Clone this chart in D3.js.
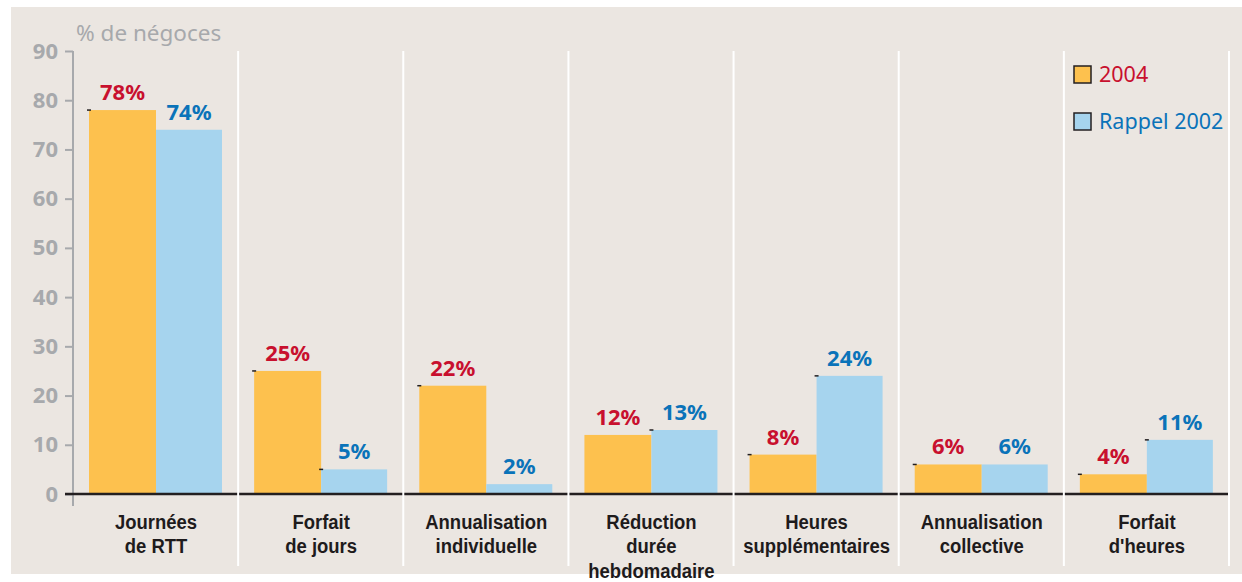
<!DOCTYPE html>
<html>
<head>
<meta charset="utf-8">
<script src="https://cdn.jsdelivr.net/npm/d3@7"></script>
<style>
  html, body { margin: 0; padding: 0; background: #fff; }
  svg { display: block; }
</style>
</head>
<body>
<div id="chart"></div>
<script>
// Data
const categories = [
  ["Journées", "de RTT"],
  ["Forfait", "de jours"],
  ["Annualisation", "individuelle"],
  ["Réduction", "durée", "hebdomadaire"],
  ["Heures", "supplémentaires"],
  ["Annualisation", "collective"],
  ["Forfait", "d'heures"]
];
const values2004 = [78, 25, 22, 12, 8, 6, 4];
const values2002 = [74, 5, 2, 13, 24, 6, 11];
const seriesNames = ["2004", "Rappel 2002"];
const yTicks = [0, 10, 20, 30, 40, 50, 60, 70, 80, 90];
// little black dash seen at the top-left corner of some bars
const dash2004 = [true, true, true, false, true, true, true];
const dash2002 = [false, true, false, true, true, false, true];

const width = 1242, height = 582;
const fillColors = ["#fdc14e", "#a6d4ee"];
const textColors = ["#c8102e", "#0a73b9"];
const gray = "#a7a9ac";
const dark = "#231f20";
const font = "'Noto Sans', 'Open Sans', sans-serif";

const svg = d3.select("#chart").append("svg")
  .attr("width", width)
  .attr("height", height);

// beige panel
svg.append("rect")
  .attr("x", 11).attr("y", 7)
  .attr("width", width - 11).attr("height", 567)
  .attr("fill", "#ebe6e1");

const x0 = 73, x1 = 1229;
const xScale = d3.scaleBand()
  .domain(d3.range(categories.length))
  .range([x0, x1]);

const yScale = d3.scaleLinear().domain([0, 90]).range([494, 51]);

const barOffset = 16, barWs = [67, 66];

// y axis
const yAxis = d3.axisLeft(yScale)
  .tickValues(yTicks)
  .tickSize(8)
  .tickPadding(7);

const gy = svg.append("g")
  .attr("transform", `translate(${x0},0)`)
  .call(yAxis);
gy.select(".domain").remove();
gy.selectAll(".tick line").attr("stroke", gray).attr("stroke-width", 2);
gy.selectAll(".tick text")
  .attr("fill", gray)
  .style("font-family", font)
  .style("font-weight", "bold")
  .style("font-size", "22px");
svg.append("line")
  .attr("x1", x0).attr("x2", x0)
  .attr("y1", yScale(90)).attr("y2", 506)
  .attr("stroke", gray).attr("stroke-width", 2);

svg.append("text")
  .attr("x", 76).attr("y", 41)
  .attr("fill", gray)
  .style("font-family", font)
  .style("font-size", "22.5px")
  .text("% de négoces");

// bars
const groups = svg.selectAll(".cat")
  .data(categories.map((c, i) => ({ i, label: c, v: [values2004[i], values2002[i]], dash: [dash2004[i], dash2002[i]] })))
  .enter().append("g")
  .attr("class", "cat")
  .attr("transform", d => `translate(${xScale(d.i)},0)`);

[0, 1].forEach(s => {
  const bx = barOffset + (s ? barWs[0] : 0);
  groups.append("rect")
    .attr("x", bx)
    .attr("y", d => yScale(d.v[s]))
    .attr("width", barWs[s])
    .attr("height", d => yScale(0) - yScale(d.v[s]))
    .attr("fill", fillColors[s]);

  groups.filter(d => d.dash[s]).append("line")
    .attr("x1", bx - 2)
    .attr("x2", bx + 2)
    .attr("y1", d => yScale(d.v[s]))
    .attr("y2", d => yScale(d.v[s]))
    .attr("stroke", dark).attr("stroke-width", 1.5);

  groups.append("text")
    .attr("x", bx + barWs[s] / 2)
    .attr("y", d => yScale(d.v[s]) - 10)
    .attr("text-anchor", "middle")
    .attr("fill", textColors[s])
    .style("font-family", font)
    .style("font-weight", "bold")
    .style("font-size", "22px")
    .text(d => d.v[s] + "%");
});

// baseline
svg.append("line")
  .attr("x1", 65).attr("x2", x1)
  .attr("y1", yScale(0)).attr("y2", yScale(0))
  .attr("stroke", dark).attr("stroke-width", 2.5);

// white dividers between categories
const dividers = d3.range(1, categories.length + 1).map(i => x0 + i * xScale.step());
svg.selectAll(".divider")
  .data(dividers)
  .enter().append("line")
  .attr("x1", d => d).attr("x2", d => d)
  .attr("y1", 51).attr("y2", 566)
  .attr("stroke", "#fff").attr("stroke-width", 2);

// category labels (condensed look via horizontal squeeze), one text per line
const labelCx = barOffset + barWs[0];
groups.append("g")
  .attr("transform", `translate(${labelCx},0) scale(0.88,1)`)
  .selectAll("text")
  .data(d => d.label)
  .enter().append("text")
  .attr("x", 0)
  .attr("y", (d, i) => 529 + i * 24.5)
  .attr("text-anchor", "middle")
  .attr("fill", "#1e1b1c")
  .style("font-family", "'Liberation Sans', Arial, sans-serif")
  .style("font-weight", "bold")
  .style("font-size", "21px")
  .text(d => d);

// legend
const legend = svg.append("g").attr("transform", "translate(1074,66)");
seriesNames.forEach((name, i) => {
  legend.append("rect")
    .attr("x", 0).attr("y", i * 47)
    .attr("width", 17).attr("height", 17)
    .attr("fill", fillColors[i])
    .attr("stroke", dark).attr("stroke-width", 1.5);
  legend.append("text")
    .attr("x", 25).attr("y", i * 47 + 16)
    .attr("fill", textColors[i])
    .style("font-family", font)
    .style("font-size", "21.5px")
    .text(name);
});
</script>
</body>
</html>
